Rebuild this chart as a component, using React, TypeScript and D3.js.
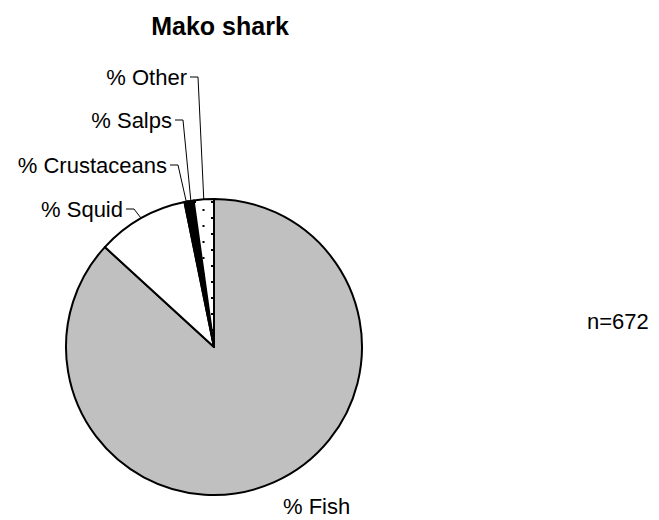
import React from "react";
import * as d3 from "d3";

const categories = ["% Fish", "% Squid", "% Crustaceans", "% Salps", "% Other"];
const values = [86.8, 10.0, 0.4, 0.6, 2.2];
const title = "Mako shark";
const sampleNote = "n=672";

const fills = ["#c0c0c0", "#ffffff", "#000000", "#000000", "url(#dots)"];
// label anchors (end of text for left labels), layout only
const labelLayout = [
  { x: 283, y: 514, anchor: "start", leader: false },
  { x: 123, y: 217, anchor: "end", leader: true },
  { x: 167, y: 173, anchor: "end", leader: true },
  { x: 172, y: 128, anchor: "end", leader: true },
  { x: 187, y: 85, anchor: "end", leader: true },
];

export default function App() {
  const W = 659, H = 520;
  const cx = 214, cy = 347, r = 148;
  const pie = d3.pie<number>().sort(null).value((d) => d)(values);
  const arc = d3.arc<d3.PieArcDatum<number>>().innerRadius(0).outerRadius(r);
  const font = "'Liberation Sans', Arial, sans-serif";
  return (
    <svg width={W} height={H} style={{ position: "absolute", left: 0, top: 0 }}>
      <defs>
        <pattern id="dots" width="17" height="16" patternUnits="userSpaceOnUse" x={cx} y={cy}>
          <rect width="17" height="16" fill="#fff" />
          <rect x="4" y="3" width="2" height="2" fill="#000" />
          <rect x="12.5" y="11" width="2" height="2" fill="#000" />
        </pattern>
      </defs>
      <rect width={W} height={H} fill="#fff" />
      <text x={220} y={35} textAnchor="middle" fontFamily={font} fontWeight="bold" fontSize={25}>{title}</text>
      <g transform={`translate(${cx},${cy})`}>
        {pie.map((p, i) => (
          <path key={i} d={arc(p) || ""} fill={fills[i]} stroke="#000" strokeWidth={2} strokeLinejoin="round" />
        ))}
      </g>
      {pie.map((p, i) => {
        const L = labelLayout[i];
        if (!L.leader) return null;
        const mid = (p.startAngle + p.endAngle) / 2;
        const px = cx + Math.sin(mid) * r;
        const py = cy - Math.cos(mid) * r;
        const ty = L.y - 8;
        const tx0 = L.x + 3;
        const tx1 = L.x + 11;
        return (
          <polyline key={"l" + i} points={`${tx0},${ty} ${tx1},${ty} ${px},${py}`} fill="none" stroke="#000" strokeWidth={1} />
        );
      })}
      {categories.map((c, i) => (
        <text key={"t" + i} x={labelLayout[i].x} y={labelLayout[i].y} textAnchor={labelLayout[i].anchor as any} fontFamily={font} fontSize={22}>{c}</text>
      ))}
      <text x={587} y={329} fontFamily={font} fontSize={22}>{sampleNote}</text>
    </svg>
  );
}
